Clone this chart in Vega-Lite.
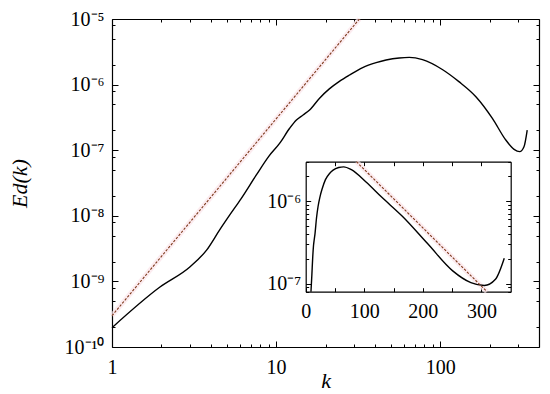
{
  "$schema": "https://vega.github.io/schema/vega-lite/v6.json",
  "width": 427,
  "height": 328,
  "autosize": {"type": "none"},
  "padding": {"left": 112, "top": 19, "right": 11, "bottom": 47},
  "background": "white",
  "config": {
    "view": {"stroke": null},
    "font": "Liberation Serif",
    "axis": {
      "grid": false,
      "domainColor": "black",
      "domainWidth": 1.2,
      "tickColor": "black",
      "tickWidth": 1,
      "labelColor": "black",
      "labelFont": "Liberation Serif",
      "labelFontSize": 20,
      "labelOverlap": false,
      "labelFlush": false,
      "titleColor": "black",
      "titleFont": "Liberation Serif",
      "titleFontWeight": "normal"
    }
  },
  "datasets": {
    "spectrum": [
      {"k": 1, "E": 1.97e-10},
      {"k": 1.96, "E": 8.2e-10},
      {"k": 2.98, "E": 1.66e-9},
      {"k": 3.77, "E": 3.0e-9},
      {"k": 4.53, "E": 6.1e-9},
      {"k": 5.22, "E": 1.03e-8},
      {"k": 6.14, "E": 1.85e-8},
      {"k": 7.58, "E": 4.2e-8},
      {"k": 9.0, "E": 8.0e-8},
      {"k": 10.5, "E": 1.27e-7},
      {"k": 12.1, "E": 2.16e-7},
      {"k": 13.3, "E": 2.88e-7},
      {"k": 14.6, "E": 3.44e-7},
      {"k": 16.0, "E": 4.1e-7},
      {"k": 18.4, "E": 6.2e-7},
      {"k": 21.1, "E": 8.6e-7},
      {"k": 24.3, "E": 1.12e-6},
      {"k": 28.0, "E": 1.4e-6},
      {"k": 33.7, "E": 1.82e-6},
      {"k": 40.7, "E": 2.16e-6},
      {"k": 46.8, "E": 2.37e-6},
      {"k": 56.3, "E": 2.55e-6},
      {"k": 64.8, "E": 2.6e-6},
      {"k": 78.0, "E": 2.4e-6},
      {"k": 103, "E": 1.7e-6},
      {"k": 130, "E": 1.11e-6},
      {"k": 165, "E": 6.55e-7},
      {"k": 208, "E": 3.06e-7},
      {"k": 251, "E": 1.43e-7},
      {"k": 282, "E": 1.03e-7},
      {"k": 305, "E": 9.5e-8},
      {"k": 324, "E": 1.13e-7},
      {"k": 339, "E": 2.03e-7}
    ],
    "powerlaw": [
      {"k": 1, "E": 3e-10},
      {"k": 32.18, "E": 1e-5}
    ],
    "expfit": [
      {"k": 86.6, "E": 3e-6},
      {"k": 309.5, "E": 8e-8}
    ]
  },
  "layer": [
    {
      "layer": [
        {
          "data": {"name": "powerlaw"},
          "mark": {"type": "line", "color": "#fbe4ea", "strokeWidth": 5, "opacity": 0.7},
          "encoding": {
            "x": {"field": "k", "type": "quantitative", "scale": {"type": "log", "domain": [1, 400], "nice": false}, "axis": null},
            "y": {"field": "E", "type": "quantitative", "scale": {"type": "log", "domain": [1e-10, 1e-5], "nice": false}, "axis": null}
          }
        },
        {
          "data": {"name": "spectrum"},
          "mark": {"type": "line", "color": "black", "strokeWidth": 1.4, "interpolate": "monotone"},
          "encoding": {
            "x": {
              "field": "k", "type": "quantitative",
              "axis": {
                "orient": "bottom",
                "values": [1, 2, 3, 4, 5, 6, 7, 8, 9, 10, 20, 30, 40, 50, 60, 70, 80, 90, 100, 200, 300],
                "labelExpr": "datum.value == 1 ? '1' : datum.value == 10 ? '10' : datum.value == 100 ? '100' : ''",
                "tickSize": {"condition": {"test": "datum.value == 1 || datum.value == 10 || datum.value == 100", "value": -6}, "value": -3},
                "labelPadding": 16,
                "title": "k",
                "titleFontStyle": "italic",
                "titleFontSize": 22,
                "titleBaseline": "alphabetic",
                "titleY": 40
              }
            },
            "y": {
              "field": "E", "type": "quantitative",
              "axis": {
                "orient": "left",
                "values": [1e-10, 2e-10, 5e-10, 8e-10, 1e-9, 2e-9, 5e-9, 8e-9, 1e-8, 2e-8, 5e-8, 8e-8, 1e-7, 2e-7, 5e-7, 8e-7, 1e-6, 2e-6, 5e-6, 8e-6, 1e-5],
                "labelExpr": "datum.value == 1e-10 ? '10⁻¹⁰' : datum.value == 1e-9 ? '10⁻⁹' : datum.value == 1e-8 ? '10⁻⁸' : datum.value == 1e-7 ? '10⁻⁷' : datum.value == 1e-6 ? '10⁻⁶' : datum.value == 1e-5 ? '10⁻⁵' : ''",
                "tickSize": {"condition": {"test": "abs(log(datum.value)/LN10 - round(log(datum.value)/LN10)) < 0.001", "value": -6}, "value": -3},
                "labelPadding": 14,
                "title": "Ed(k)",
                "titleFontStyle": "italic",
                "titleFontSize": 22,
                "titleAngle": -90,
                "titleBaseline": "middle",
                "titleAlign": "center",
                "titleX": -93,
                "titleY": 164
              }
            }
          }
        },
        {
          "data": {"name": "powerlaw"},
          "mark": {"type": "line", "color": "#7e3a1c", "strokeWidth": 1.1, "strokeDash": [2.5, 1.5]},
          "encoding": {
            "x": {
              "field": "k", "type": "quantitative",
              "axis": {
                "orient": "top",
                "values": [1, 2, 3, 4, 5, 6, 7, 8, 9, 10, 20, 30, 40, 50, 60, 70, 80, 90, 100, 200, 300],
                "labels": false,
                "tickSize": {"condition": {"test": "datum.value == 1 || datum.value == 10 || datum.value == 100", "value": -6}, "value": -3},
                "title": null
              }
            },
            "y": {
              "field": "E", "type": "quantitative",
              "axis": {
                "orient": "right",
                "values": [1e-10, 2e-10, 5e-10, 8e-10, 1e-9, 2e-9, 5e-9, 8e-9, 1e-8, 2e-8, 5e-8, 8e-8, 1e-7, 2e-7, 5e-7, 8e-7, 1e-6, 2e-6, 5e-6, 8e-6, 1e-5],
                "labels": false,
                "tickSize": {"condition": {"test": "abs(log(datum.value)/LN10 - round(log(datum.value)/LN10)) < 0.001", "value": -6}, "value": -3},
                "title": null
              }
            }
          }
        }
      ],
      "resolve": {"axis": {"x": "independent", "y": "independent"}}
    },
    {
      "layer": [
        {
          "data": {"name": "expfit"},
          "mark": {"type": "line", "color": "#fbe4ea", "strokeWidth": 5, "opacity": 0.7},
          "encoding": {
            "x": {"field": "k", "type": "quantitative", "scale": {"type": "linear", "domain": [0, 350], "nice": false, "zero": false, "range": [193.7, 398.7]}, "axis": null},
            "y": {"field": "E", "type": "quantitative", "scale": {"type": "log", "domain": [8e-8, 3e-6], "nice": false, "range": [272.7, 142.7]}, "axis": null}
          }
        },
        {
          "data": {"name": "spectrum"},
          "transform": [{"filter": "datum.E >= 8e-8"}],
          "mark": {"type": "line", "color": "black", "strokeWidth": 1.4, "interpolate": "monotone"},
          "encoding": {
            "x": {
              "field": "k", "type": "quantitative",
              "axis": {
                "orient": "bottom",
                "offset": -55.3,
                "values": [0, 50, 100, 150, 200, 250, 300],
                "labelExpr": "datum.value % 100 == 0 ? datum.value + '' : ''",
                "tickSize": -4,
                "labelPadding": 14,
                "title": null
              }
            },
            "y": {
              "field": "E", "type": "quantitative",
              "axis": {
                "orient": "left",
                "offset": -193.7,
                "values": [8e-8, 9e-8, 1e-7, 2e-7, 3e-7, 4e-7, 5e-7, 6e-7, 7e-7, 8e-7, 9e-7, 1e-6, 2e-6, 3e-6],
                "labelExpr": "datum.value == 1e-7 ? '10⁻⁷' : datum.value == 1e-6 ? '10⁻⁶' : ''",
                "tickSize": {"condition": {"test": "datum.value == 1e-7 || datum.value == 1e-6", "value": -5}, "value": -3},
                "labelPadding": 10,
                "title": null
              }
            }
          }
        },
        {
          "data": {"name": "expfit"},
          "mark": {"type": "line", "color": "#7e3a1c", "strokeWidth": 1.1, "strokeDash": [2.5, 1.5]},
          "encoding": {
            "x": {
              "field": "k", "type": "quantitative",
              "axis": {
                "orient": "top",
                "offset": -142.7,
                "values": [50, 100, 150, 200, 250, 300],
                "labels": false,
                "tickSize": -4,
                "title": null
              }
            },
            "y": {
              "field": "E", "type": "quantitative",
              "axis": {
                "orient": "right",
                "offset": -28.3,
                "values": [8e-8, 9e-8, 1e-7, 2e-7, 3e-7, 4e-7, 5e-7, 6e-7, 7e-7, 8e-7, 9e-7, 1e-6, 2e-6, 3e-6],
                "labels": false,
                "tickSize": {"condition": {"test": "datum.value == 1e-7 || datum.value == 1e-6", "value": -5}, "value": -3},
                "title": null
              }
            }
          }
        }
      ],
      "resolve": {"axis": {"x": "independent", "y": "independent"}}
    }
  ],
  "resolve": {"scale": {"x": "independent", "y": "independent"}}
}
